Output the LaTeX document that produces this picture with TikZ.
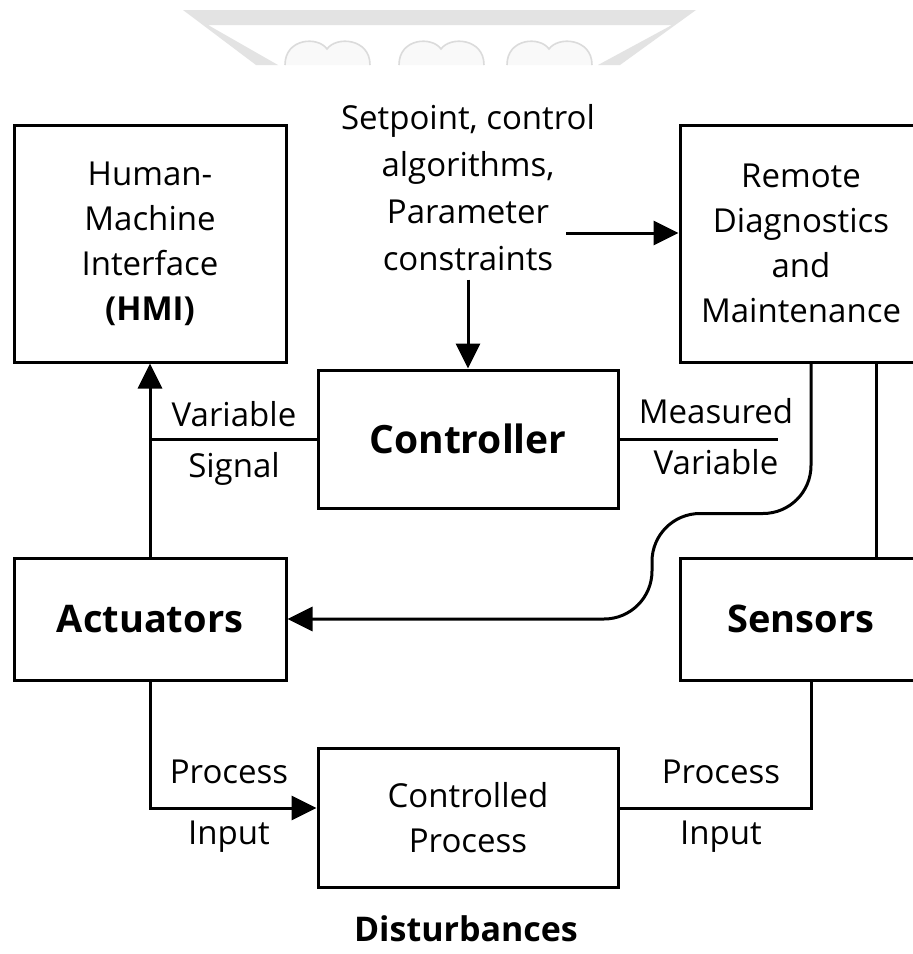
\documentclass[tikz,border=0pt]{standalone}
\usepackage{fontspec}
\setmainfont{Open Sans}
\usetikzlibrary{arrows, arrows.meta}
\usetikzlibrary{calc}

\begin{document}
\begin{tikzpicture}[x=0.5pt, y=-0.5pt,
    box/.style={draw, line width=1.5pt, inner sep=0pt, align=center, font=\fontsize{16.5}{22.5}\selectfont},
    bigtext/.style={font=\fontsize{19.5}{24}\selectfont\bfseries},
    lbl/.style={align=center, inner sep=0pt, font=\fontsize{16.5}{25.5}\selectfont},
    wire/.style={line width=1.5pt},
    arr/.style={line width=1.5pt, -{Triangle[length=12.5pt, width=12pt]}}]
    \useasboundingbox (0,0) rectangle (913,954);
    \fill[white] (0,0) rectangle (913,954);
    \clip (0,0) rectangle (913,954);

    % faint mark at the top
    \fill[gray!22] (183,10) -- (696,10) -- (620,65) -- (598,65) -- (672,25) -- (208,25) -- (278,65) -- (256,65) -- cycle;
    \foreach \bx in {285,399,507}
      \draw[gray!28, fill=gray!5, line width=0.8pt] (\bx,65) .. controls (\bx,38) and (\bx+33,36) .. (\bx+42,49) .. controls (\bx+51,36) and (\bx+85,38) .. (\bx+85,65);

    % blocks
    \node[box, minimum width=136pt, minimum height=118.5pt] (hmi) at (150,243.5) {Human-\\Machine\\Interface\\\textbf{(HMI)}};
    \node[box, minimum width=121pt, minimum height=118.5pt] (rem) at (801,243.5) {Remote\\Diagnostics\\and\\Maintenance};
    \node[box, minimum width=150pt, minimum height=69pt, bigtext] (ctl) at (468,439) {Controller};
    \node[box, minimum width=136pt, minimum height=61pt, font=\fontsize{19}{24}\selectfont\bfseries] (act) at (150,619) {Actuators};
    \node[box, minimum width=121pt, minimum height=61pt, font=\fontsize{19}{24}\selectfont\bfseries] (sen) at (801,619) {Sensors};
    \node[box, minimum width=150pt, minimum height=69.5pt] (prc) at (468,817.5) {Controlled\\Process};

    % texts
    \node[align=center, inner sep=0pt, font=\fontsize{16.5}{23.5}\selectfont] (spt) at (468,188) {Setpoint, control\\algorithms,\\Parameter\\constraints};
    \node[lbl] (vsig) at (234,443) {Variable\\Signal};
    \node[lbl] (mvar) at (716,437) {Measured\\Variable};
    \node[lbl, font=\fontsize{16.5}{30.5}\selectfont] (pin1) at (229,806) {Process\\Input};
    \node[lbl, font=\fontsize{16.5}{30.5}\selectfont] (pin2) at (721,806) {Process\\Input};
    \node[font=\fontsize{17}{20}\selectfont\bfseries] (dist) at (466,929) {Disturbances};
    \coordinate (sptout) at (566,233);
    \coordinate (mvend) at (778,439);

    % connectors
    \draw[arr] (spt.south -| ctl.north) ++(0,8) -- (ctl.north);
    \draw[arr] (sptout) -- (sptout -| rem.west);
    \draw[arr] (act.north) -- (hmi.south);
    \draw[wire] (ctl.west) -- (ctl.west -| act.north);
    \draw[wire] (ctl.east) -- (mvend);
    \draw[arr, rounded corners=24pt] ([xshift=5pt]rem.south) -- ++(0,150) -- ++(-159,0) |- (act.east);
    \draw[wire] ([xshift=37.5pt]rem.south) -- ([xshift=37.5pt]sen.north);
    \draw[arr] (act.south) |- ([yshift=4.75pt]prc.west);
    \draw[wire] ([xshift=5pt]sen.south) |- ([yshift=4.75pt]prc.east);
\end{tikzpicture}
\end{document}
